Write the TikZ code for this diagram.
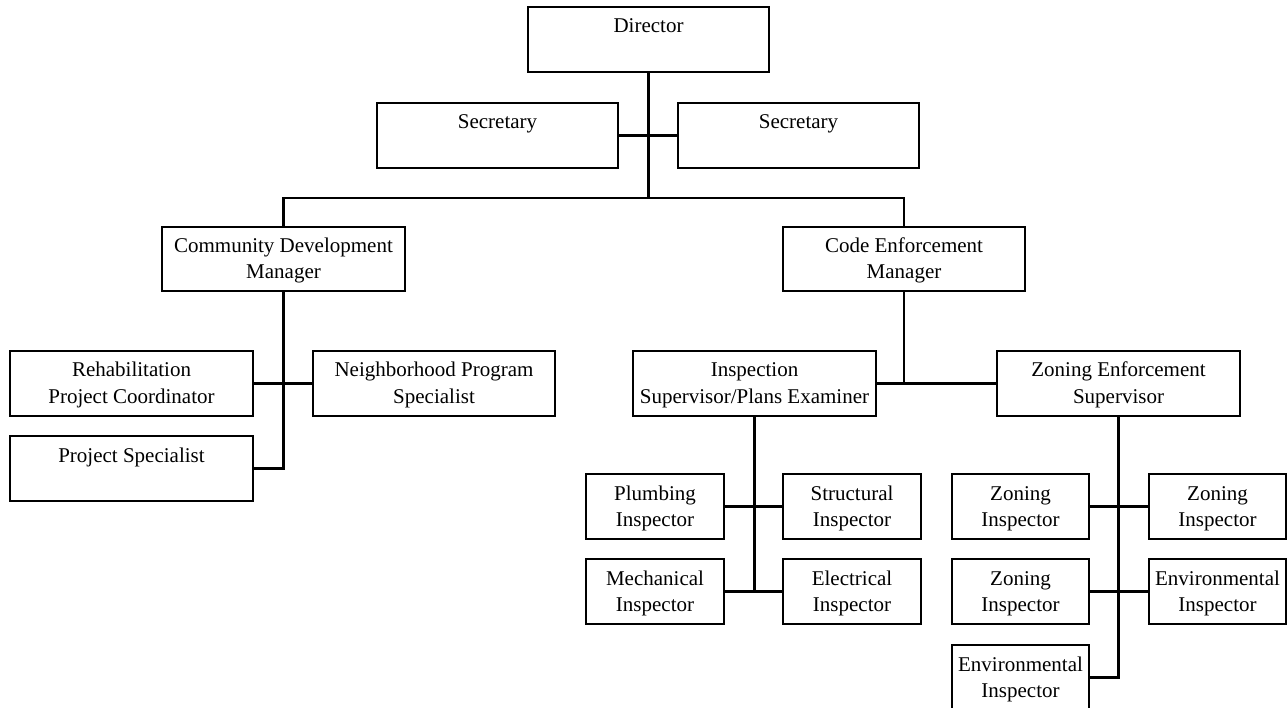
\documentclass[tikz,border=0pt]{standalone}
\usepackage{fontspec}
\setmainfont{Liberation Serif}
\tikzset{
  obox/.style={draw=black, line width=2.2pt, fill=white, inner sep=0pt, outer sep=0pt, rectangle},
  otext/.style={anchor=base, inner sep=0pt, font=\fontsize{21}{25}\selectfont},
  conn/.style={draw=black, line width=2.2pt}
}
\newcommand\orgbox[7]{%
  \node[obox, minimum width={#3-#2}, minimum height={#5-#4}] (#1) at ({(#2+#3)/2},{(#4+#5)/2}) {};
  \node[otext] (#1-a) at ([yshift=-26pt]#1.north) {#6};
  \node[otext] (#1-b) at ([yshift=-52pt]#1.north) {#7};
}
\begin{document}
\begin{tikzpicture}[x=1pt,y=-1pt]
\fill[white] (0,0) rectangle (1287,708);
\clip (0,0) rectangle (1287,708);
% connectors first
\coordinate (j0) at (648.5,198);
% boxes
\orgbox{dir}{528}{769}{7}{72}{Director}{}
\orgbox{secl}{377}{618}{103}{168}{Secretary}{}
\orgbox{secr}{678}{919}{103}{168}{Secretary}{}
\orgbox{cdm}{162}{405}{227}{291}{Community Development}{Manager}
\orgbox{cem}{783}{1025}{227}{291}{Code Enforcement}{Manager}
\orgbox{rehab}{10}{253}{351}{416}{Rehabilitation}{Project Coordinator}
\orgbox{nps}{313}{555}{351}{416}{Neighborhood Program}{Specialist}
\orgbox{ps}{10}{253}{436}{501}{Project Specialist}{}
\orgbox{ispe}{633}{876}{351}{416}{Inspection}{Supervisor/Plans Examiner}
\orgbox{zes}{997}{1240}{351}{416}{Zoning Enforcement}{Supervisor}
\orgbox{plumb}{586}{724}{474}{539}{Plumbing}{Inspector}
\orgbox{struct}{783}{921}{474}{539}{Structural}{Inspector}
\orgbox{mech}{586}{724}{559}{624}{Mechanical}{Inspector}
\orgbox{elec}{783}{921}{559}{624}{Electrical}{Inspector}
\orgbox{zone1}{952}{1089}{474}{539}{Zoning}{Inspector}
\orgbox{zone2}{1149}{1286}{474}{539}{Zoning}{Inspector}
\orgbox{zone3}{952}{1089}{559}{624}{Zoning}{Inspector}
\orgbox{envr}{1149}{1286}{559}{624}{Environmental}{Inspector}
\orgbox{envb}{952}{1089}{645}{710}{Environmental}{Inspector}
% connectors
\draw[conn] (dir.south) -- (j0);
\draw[conn] (secl.east) -- (secr.west);
\draw[conn] (cdm.north) |- (j0) -| (cem.north);
\draw[conn] (cdm.south) -- (cdm.south |- ps.east) -- (ps.east);
\draw[conn] (rehab.east) -- (nps.west);
\draw[conn] (cem.south) -- (cem.south |- ispe.east);
\draw[conn] (ispe.east) -- (zes.west);
\draw[conn] (ispe.south) -- (ispe.south |- mech.east);
\draw[conn] (plumb.east) -- (struct.west);
\draw[conn] (mech.east) -- (elec.west);
\draw[conn] (zes.south) -- (zes.south |- envb.east) -- (envb.east);
\draw[conn] (zone1.east) -- (zone2.west);
\draw[conn] (zone3.east) -- (envr.west);
\end{tikzpicture}
\end{document}
